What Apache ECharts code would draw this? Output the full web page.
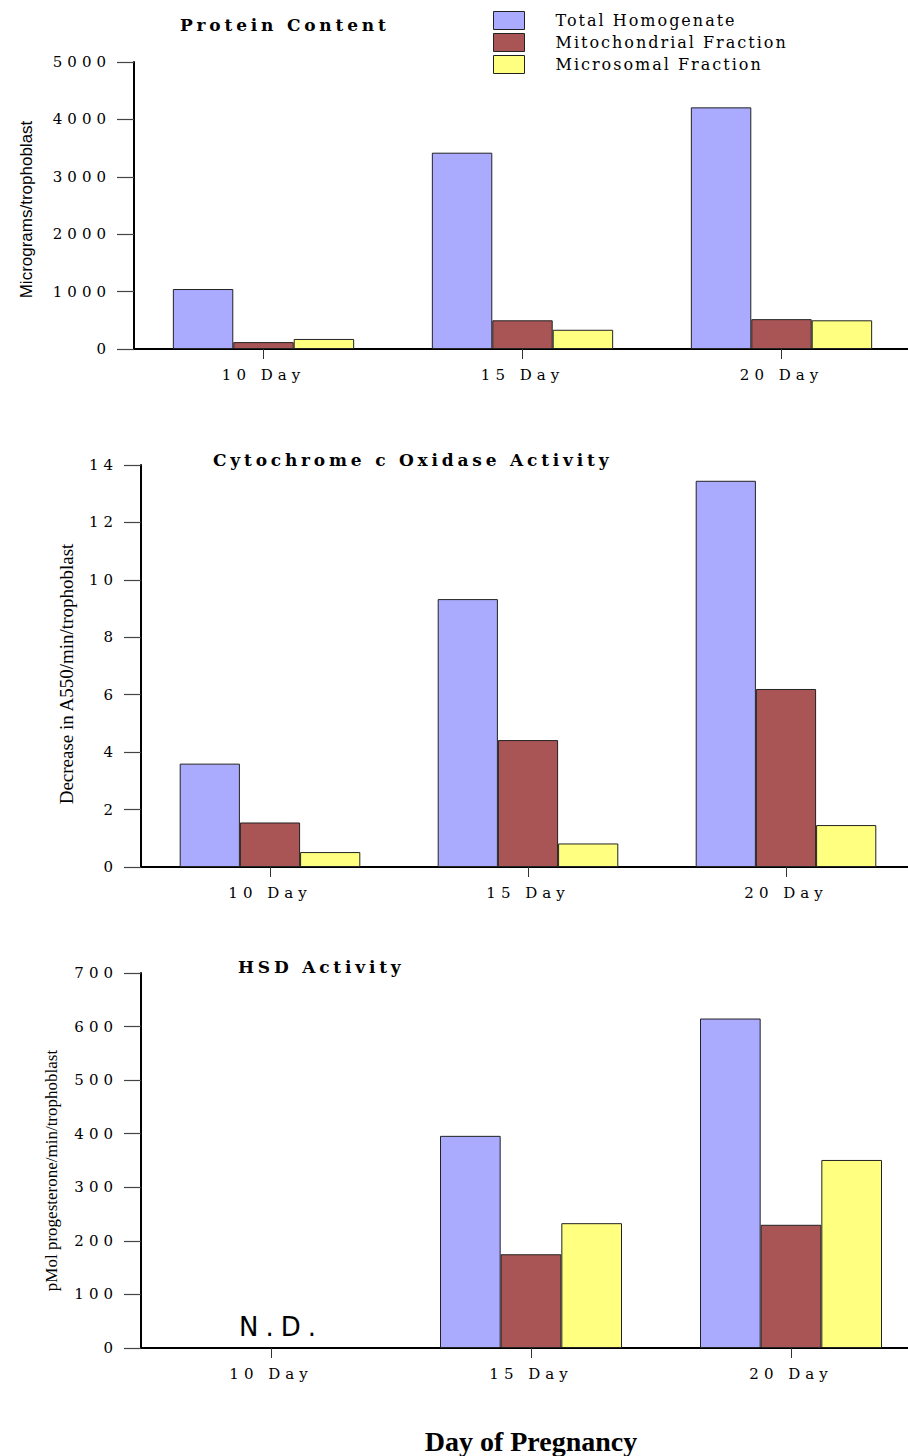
<!DOCTYPE html>
<html>
<head>
<meta charset="utf-8">
<script src="https://cdn.jsdelivr.net/npm/echarts@6/dist/echarts.min.js"></script>
<style>
  html, body { margin: 0; padding: 0; background: #fff; overflow: hidden; }
  /* the x axes run a few pixels past the right edge of the page */
  #chart { width: 930px; height: 1456px; }
  /* widened serif lettering for ticks, categories, legend and panel titles */
  #chart text[style*="DejaVu Serif"][style*="15px"] { letter-spacing: 5px; }
  #chart text[style*="DejaVu Serif"][style*="16px"] { letter-spacing: 2px; }
  #chart text[style*="DejaVu Serif"][style*="17px"] { letter-spacing: 3.8px; }
  #chart text[style*="DejaVu Sans"] { letter-spacing: 7px; }
</style>
</head>
<body>
<div id="chart"></div>
<script>
const days = ['10 Day', '15 Day', '20 Day'];
const fractions = ['Total Homogenate', 'Mitochondrial Fraction', 'Microsomal Fraction'];
const fillColors = ['#aaaaff', '#aa5555', '#ffff80'];

// Protein content (micrograms / trophoblast)
const proteinTotal = [1045, 3420, 4210];
const proteinMito = [120, 500, 520];
const proteinMicro = [175, 335, 500];

// Cytochrome c oxidase (decrease in A550 / min / trophoblast)
const oxidaseTotal = [3.6, 9.33, 13.45];
const oxidaseMito = [1.55, 4.42, 6.2];
const oxidaseMicro = [0.52, 0.82, 1.46];

// HSD activity (pMol progesterone / min / trophoblast); 10 day not detected
const hsdTotal = [null, 396, 615];
const hsdMito = [null, 175, 230];
const hsdMicro = [null, 233, 351];

const panelTitles = ['Protein Content', 'Cytochrome c Oxidase Activity', 'HSD Activity'];
const yNames = ['Micrograms/trophoblast', 'Decrease in A550/min/trophoblast', 'pMol progesterone/min/trophoblast'];
const yMax = [5000, 14, 700];
const yStep = [1000, 2, 100];
const notDetectedLabel = 'N.D.';
const xTitle = 'Day of Pregnancy';

const panelData = [
  [proteinTotal, proteinMito, proteinMicro],
  [oxidaseTotal, oxidaseMito, oxidaseMicro],
  [hsdTotal, hsdMito, hsdMicro]
];

// layout of the three stacked panels
const grids = [
  { left: 134, top: 62, width: 777, height: 287 },
  { left: 141, top: 465, width: 774, height: 402 },
  { left: 141, top: 973, width: 780, height: 375 }
];
const titlePos = [
  { left: 180, top: 16 },
  { left: 213, top: 451 },
  { left: 238, top: 958 }
];
// rotated axis names; right padding nudges each name down along the axis
const yNameStyle = [
  { fontFamily: 'Liberation Sans', fontSize: 17, gap: 99, shift: 8 },
  { fontFamily: 'Liberation Serif', fontSize: 19, gap: 65, shift: 16 },
  { fontFamily: 'Liberation Serif', fontSize: 17, gap: 81, shift: 20 }
];

const serif = 'DejaVu Serif';

const xAxes = grids.map((g, i) => ({
  gridIndex: i,
  type: 'category',
  data: days,
  axisLine: { show: true, lineStyle: { color: '#000', width: 2 } },
  axisTick: { show: true, alignWithLabel: true, length: 10, lineStyle: { color: '#333', width: 1 } },
  axisLabel: { margin: 18, fontFamily: serif, fontSize: 15, color: '#000' },
  splitLine: { show: false },
  name: i === 2 ? xTitle : '',
  nameLocation: 'middle',
  nameGap: 79,
  nameTextStyle: { fontFamily: 'Liberation Serif', fontWeight: 'bold', fontSize: 28, color: '#000' }
}));

const yAxes = grids.map((g, i) => ({
  gridIndex: i,
  type: 'value',
  min: 0,
  max: yMax[i],
  interval: yStep[i],
  axisLine: { show: true, lineStyle: { color: '#000', width: 2 } },
  axisTick: { show: true, length: 17, lineStyle: { color: '#444', width: 1.2 } },
  axisLabel: { margin: 23, fontFamily: serif, fontSize: 15, color: '#000', formatter: v => String(v) },
  splitLine: { show: false },
  name: yNames[i],
  nameLocation: 'middle',
  nameGap: yNameStyle[i].gap,
  nameTextStyle: {
    fontFamily: yNameStyle[i].fontFamily,
    fontSize: yNameStyle[i].fontSize,
    color: '#000',
    padding: [0, yNameStyle[i].shift, 0, 0]
  }
}));

const series = [];
panelData.forEach((groups, p) => {
  groups.forEach((vals, k) => {
    const s = {
      name: fractions[k],
      type: 'bar',
      xAxisIndex: p,
      yAxisIndex: p,
      data: vals,
      barGap: '0%',
      barCategoryGap: '30%',
      itemStyle: { color: fillColors[k], borderColor: '#222', borderWidth: 1 },
      emphasis: { disabled: true }
    };
    if (p === 2 && k === 1) {
      s.markPoint = {
        symbol: 'rect',
        symbolSize: 1,
        itemStyle: { color: 'rgba(0,0,0,0)', borderWidth: 0 },
        label: {
          show: true,
          position: 'top',
          distance: 8,
          offset: [10, 0],
          formatter: notDetectedLabel,
          fontFamily: 'DejaVu Sans',
          fontSize: 26,
          color: '#000'
        },
        data: [{ coord: [days[0], 0] }]
      };
    }
    series.push(s);
  });
});

const chart = echarts.init(document.getElementById('chart'), null, { renderer: 'svg' });
chart.setOption({
  animation: false,
  backgroundColor: '#fff',
  title: panelTitles.map((t, i) => ({
    text: t,
    left: titlePos[i].left,
    top: titlePos[i].top,
    padding: 0,
    textStyle: { fontFamily: serif, fontWeight: 'bold', fontSize: 17, color: '#000' }
  })),
  legend: {
    data: fractions,
    orient: 'vertical',
    left: 493,
    top: 11,
    padding: 0,
    itemWidth: 31,
    itemHeight: 18,
    itemGap: 3,
    icon: 'rect',
    itemStyle: { borderColor: '#222', borderWidth: 1 },
    textStyle: { fontFamily: serif, fontSize: 16, color: '#000', padding: [0, 0, 0, 26] }
  },
  grid: grids,
  xAxis: xAxes,
  yAxis: yAxes,
  series: series
});
</script>
</body>
</html>
